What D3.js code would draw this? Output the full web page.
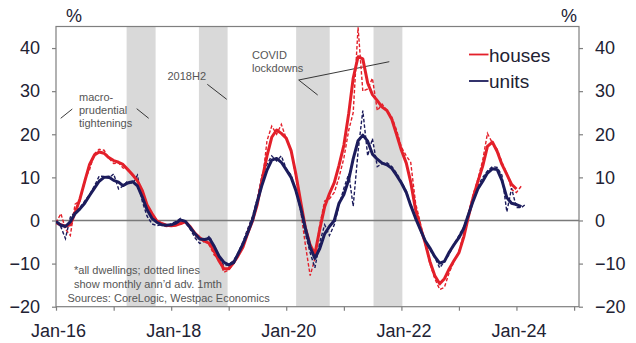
<!DOCTYPE html>
<html>
<head>
<meta charset="utf-8">
<script src="https://cdn.jsdelivr.net/npm/d3@7"></script>
<style>
  html, body { margin: 0; padding: 0; background: #fff; }
  svg { display: block; font-family: "Liberation Sans", Arial, sans-serif; }
</style>
</head>
<body>
<svg id="chart" width="636" height="343"></svg>
<script>
// ---- DATA ----
const startYear = 2016, startMonth = 0; // Jan-16, monthly observations

const housesSmooth = [
  -0.5, -1.0, -1.3, -1.0, 1.8, 5.0, 9.0, 13.0, 15.2, 15.9, 15.6, 14.6,
  13.9, 13.5, 13.0, 11.8, 10.6, 9.2, 7.0, 3.6, 1.6, -0.1, -0.7, -1.1,
  -1.2, -1.1, -0.7, -0.3, -1.4, -3.0, -4.0, -4.8, -5.3, -7.2, -9.4, -11.2,
  -11.2, -9.8, -8.2, -6.2, -3.0, -0.1, 3.7, 9.5, 15.0, 19.3, 21.0, 20.2,
  19.1, 16.2, 11.0, 4.5, -1.6, -5.7, -7.8, -2.0, 3.2, 6.2, 8.8, 12.8,
  17.5, 24.9, 33.0, 38.0, 37.5, 31.9, 29.2, 27.8, 26.3, 25.5, 23.5, 20.0,
  16.3, 13.3, 8.9, 2.5, -1.5, -5.2, -9.5, -12.8, -14.7, -13.5, -11.2, -9.3,
  -7.5, -3.8, 0.7, 5.3, 9.0, 12.6, 17.2, 18.2, 16.0, 13.0, 10.7, 8.4,
  7.3
];
const housesMonthly = [
  -0.5, 1.6, -2.0, -3.5, 3.8, 4.5, 9.5, 11.8, 15.5, 16.5, 16.3, 14.5,
  13.2, 13.4, 12.2, 11.8, 10.4, 9.4, 6.2, 3.0, 1.2, -0.4, -1.1, -1.4,
  -1.3, -0.8, -0.9, -0.4, -1.8, -3.4, -4.4, -4.5, -5.8, -8.0, -9.0, -12.0,
  -11.5, -9.9, -8.0, -5.8, -2.6, 0.6, 4.5, 8.5, 18.5, 21.9, 20.0, 22.3,
  19.0, 16.0, 10.5, 2.5, -5.5, -12.8, -8.8, -1.0, 4.5, 5.0, 6.5, 10.0,
  14.5, 21.0, 25.0, 44.8, 30.0, 30.5, 33.0, 25.5, 27.0, 25.5, 24.0, 21.0,
  17.0, 15.0, 13.5, 4.0, -0.5, -5.5, -10.0, -13.5, -16.0, -15.5, -12.0, -9.5,
  -7.2, -3.0, 1.5, 6.0, 9.5, 14.0, 20.2, 18.0, 16.5, 13.5, 11.0, 7.2,
  6.5, 8.0
];
const unitsSmooth = [
  -0.2, -1.1, -1.4, -0.3, 1.6, 2.7, 4.0, 5.8, 7.5, 9.1, 10.0, 10.1,
  9.3, 8.9, 8.1, 8.7, 9.0, 8.0, 5.5, 2.5, 0.5, -0.4, -1.0, -1.1,
  -1.0, -0.6, 0.1, -0.2, -1.6, -3.1, -4.3, -4.4, -4.2, -6.0, -8.3, -9.7,
  -10.3, -9.8, -7.8, -5.5, -2.9, 0.1, 4.3, 8.3, 11.7, 14.0, 14.4, 13.5,
  11.8, 10.0, 7.1, 3.0, -1.7, -6.2, -8.8, -6.5, -3.1, -1.4, 0.0, 4.0,
  6.0, 9.5, 14.3, 18.5, 19.8, 18.4, 15.4, 14.2, 13.3, 12.9, 12.1, 10.5,
  8.7, 6.5, 3.5, 0.5, -2.1, -4.7, -6.4, -8.4, -9.9, -9.5, -7.3, -5.6,
  -4.0, -1.8, 1.2, 4.5, 7.3, 9.1, 11.0, 12.0, 11.8, 9.3, 5.3, 4.0,
  3.7, 3.2
];
const unitsMonthly = [
  -0.5, -1.5, -4.2, 0.8, 2.0, 3.0, 4.5, 6.0, 8.0, 10.3, 10.2, 9.8,
  10.8, 7.3, 8.0, 9.2, 8.5, 10.5, 4.5, 1.0, -0.8, -1.2, -1.0, -1.3,
  -0.8, -0.2, 0.5, -0.5, -2.0, -4.0, -5.3, -4.8, -3.6, -6.2, -9.0, -10.5,
  -10.2, -9.3, -7.5, -5.0, -2.0, 1.0, 5.0, 10.5, 13.0, 15.0, 13.8, 15.0,
  12.0, 10.5, 7.0, 2.5, -3.0, -7.5, -11.0, -5.0, -1.0, -3.5, -1.0, 3.5,
  7.5, 10.8, 3.3, 16.0, 25.5, 15.0, 19.0, 12.5, 13.2, 13.4, 12.5, 11.0,
  9.0, 6.8, 3.8, 0.8, -2.3, -5.0, -6.8, -8.6, -11.0, -9.5, -7.8, -5.5,
  -3.5, -1.5, 1.5, 5.0, 8.0, 10.0, 11.5, 12.5, 12.3, 10.5, 2.0, 7.5,
  3.0, 3.0, 3.8
];

const bands = [
  ["2017-03-24", "2017-09-24"],
  ["2018-06-26", "2018-12-25"],
  ["2020-03-04", "2020-10-03"],
  ["2021-07-08", "2022-01-07"]
];
const yTicks = [-20, -10, 0, 10, 20, 30, 40];
const xTickYears = [2016, 2017, 2018, 2019, 2020, 2021, 2022, 2023, 2024, 2025];
const xLabelYears = [2016, 2018, 2020, 2022, 2024];
const seriesNames = ["houses", "units"];
const colors = { houses: "#e3202a", units: "#1c1c5c" };

// ---- LAYOUT ----
const svg = d3.select("#chart");
const L = 56, R = 579, T = 26.5, B = 306.7;
const x = d3.scaleTime().domain([new Date(2016, 0, 1), new Date(2025, 1, 1)]).range([L, R]);
const y = d3.scaleLinear().domain([-20, 45]).range([B, T]);

const monthDate = i => new Date(startYear, startMonth + i, 1);

// bands
svg.append("g").selectAll("rect").data(bands).join("rect")
  .attr("x", d => x(new Date(d[0])))
  .attr("width", d => x(new Date(d[1])) - x(new Date(d[0])))
  .attr("y", T).attr("height", B - T)
  .attr("fill", "#d9d9d9");

// zero line
svg.append("line").attr("x1", L).attr("x2", R).attr("y1", y(0)).attr("y2", y(0))
  .attr("stroke", "#7a7a7a").attr("stroke-width", 1.4);

// frame
svg.append("rect").attr("x", L).attr("y", T).attr("width", R - L).attr("height", B - T)
  .attr("fill", "none").attr("stroke", "#7f7f7f").attr("stroke-width", 1.2);

// axes
const textColor = "#222233";
const leftAxis = d3.axisLeft(y).tickValues(yTicks).tickSize(4).tickPadding(12).tickFormat(d3.format("d"));
const rightAxis = d3.axisRight(y).tickValues(yTicks).tickSize(4).tickPadding(12).tickFormat(d3.format("d"));
const bottomAxis = d3.axisBottom(x).tickValues(xTickYears.map(yr => new Date(yr, 0, 1))).tickSize(4).tickPadding(14)
  .tickFormat(d => xLabelYears.includes(d.getFullYear()) ? d3.timeFormat("Jan-%y")(d) : "");

function styleAxis(g) {
  g.select(".domain").remove();
  g.selectAll(".tick line").attr("stroke", "#7f7f7f").attr("stroke-width", 1.2);
  g.selectAll(".tick text").attr("fill", textColor).attr("font-size", 18);
}
svg.append("g").attr("transform", `translate(${L},0)`).call(leftAxis).call(styleAxis);
svg.append("g").attr("transform", `translate(${R},0)`).call(rightAxis).call(styleAxis);
const bx = svg.append("g").attr("transform", `translate(0,${B})`).call(bottomAxis).call(styleAxis);
bx.selectAll(".tick text").attr("dx", 2);

// % labels
svg.append("text").attr("x", 66).attr("y", 22).attr("font-size", 18).attr("fill", textColor).text("%");
svg.append("text").attr("x", 561).attr("y", 22).attr("font-size", 18).attr("fill", textColor).text("%");

// annotations
const ann = svg.append("g").attr("font-size", 11).attr("fill", "#555");
ann.append("text").attr("x", 79).attr("y", 101).text("macro-");
ann.append("text").attr("x", 79).attr("y", 114).text("prudential");
ann.append("text").attr("x", 79).attr("y", 127).text("tightenings");
ann.append("text").attr("x", 167.5).attr("y", 79.5).text("2018H2");
ann.append("text").attr("x", 252).attr("y", 58.5).text("COVID");
ann.append("text").attr("x", 252).attr("y", 71.5).text("lockdowns");

const leaders = [
  [60.7, 118.3, 72.3, 109],
  [136.7, 108.7, 148.7, 118.3],
  [207.3, 84.3, 226.7, 99.3],
  [298.7, 80, 389.3, 61.7],
  [298.7, 80, 317.7, 95]
];
svg.append("g").selectAll("line").data(leaders).join("line")
  .attr("x1", d => d[0]).attr("y1", d => d[1]).attr("x2", d => d[2]).attr("y2", d => d[3])
  .attr("stroke", "#222").attr("stroke-width", 0.9);

// lines
svg.append("clipPath").attr("id", "plotclip").append("rect")
  .attr("x", L).attr("y", T).attr("width", R - L).attr("height", B - T);
const line = d3.line().x((d, i) => x(monthDate(i))).y(d => y(d)).curve(d3.curveLinear);
const plot = svg.append("g").attr("clip-path", "url(#plotclip)");

plot.append("path").datum(housesMonthly).attr("d", line).attr("fill", "none")
  .attr("stroke", colors.houses).attr("stroke-width", 1.4).attr("stroke-dasharray", "3.5,2");
plot.append("path").datum(unitsMonthly).attr("d", line).attr("fill", "none")
  .attr("stroke", colors.units).attr("stroke-width", 1.4).attr("stroke-dasharray", "3.5,2");
plot.append("path").datum(housesSmooth).attr("d", line).attr("fill", "none")
  .attr("stroke", colors.houses).attr("stroke-width", 3).attr("stroke-linejoin", "round");
plot.append("path").datum(unitsSmooth).attr("d", line).attr("fill", "none")
  .attr("stroke", colors.units).attr("stroke-width", 3).attr("stroke-linejoin", "round");

// legend
const leg = svg.append("g").selectAll("g").data(seriesNames).join("g")
  .attr("transform", (d, i) => `translate(469,${54.5 + i * 26.5})`);
leg.append("line").attr("x1", 0).attr("x2", 19.5).attr("y1", 0).attr("y2", 0)
  .attr("stroke", d => colors[d]).attr("stroke-width", 1.8);
leg.append("text").attr("x", 20).attr("y", 7).attr("font-size", 19).attr("fill", textColor).text(d => d);

// footnote
const fn = svg.append("g").attr("font-size", 11).attr("fill", "#555");
fn.append("text").attr("x", 74).attr("y", 274).text("*all dwellings; dotted lines");
fn.append("text").attr("x", 74).attr("y", 287.5).text("show monthly ann\u2019d adv. 1mth");
fn.append("text").attr("x", 67.5).attr("y", 301.5).text("Sources: CoreLogic, Westpac Economics");
</script>
</body>
</html>
